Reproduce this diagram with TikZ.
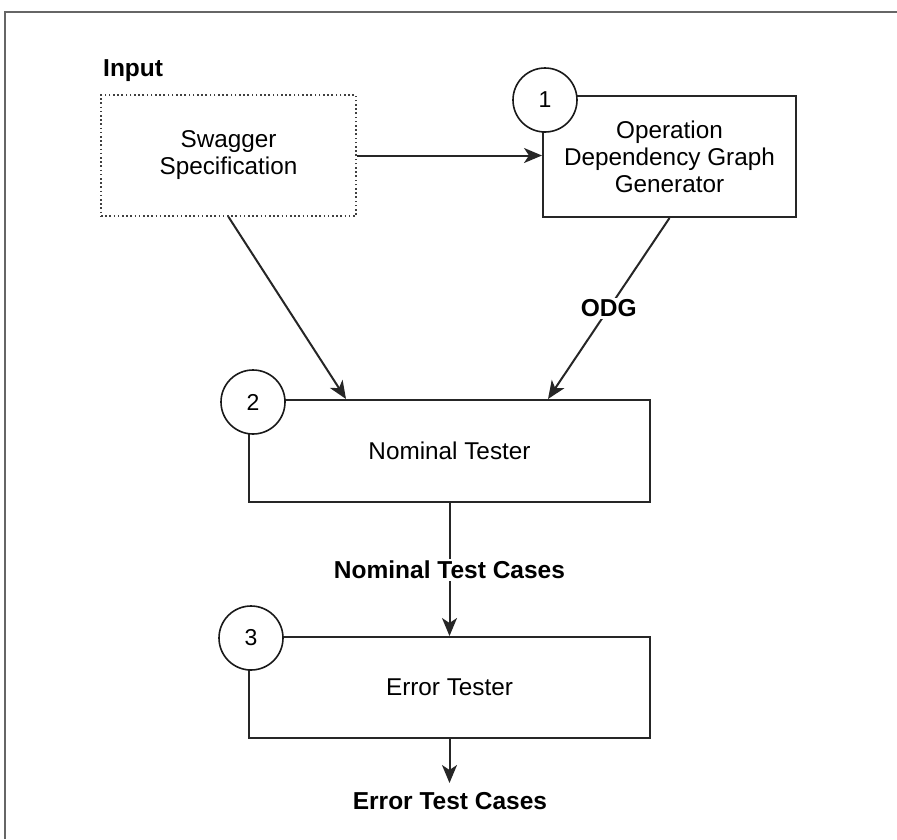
\documentclass[tikz,border=0pt]{standalone}
\usepackage{fontspec}
\setmainfont{Liberation Sans}
\usetikzlibrary{arrows.meta,positioning}
\begin{document}
\begin{tikzpicture}[x=1pt,y=-1pt,
  every node/.style={font=\fontsize{24.3}{27}\selectfont, align=center, inner sep=0pt},
  stagebox/.style={draw=black!85, line width=2pt, fill=white},
  inputbox/.style={draw=black!75, line width=1.8pt, dash pattern=on 1.6pt off 2.6pt},
  numcircle/.style={draw=black!90, line width=1.6pt, fill=white, circle, minimum size=64pt, font=\fontsize{23}{26}\selectfont},
  lbl/.style={font=\bfseries\fontsize{24.5}{27}\selectfont, fill=white, inner sep=2pt},
  conn/.style={draw=black!85, line width=2pt, -{Stealth[length=18pt,width=15pt,inset=5pt]}},
  plain/.style={draw=black!85, line width=2pt}
]
\useasboundingbox (0,0) rectangle (897,839);
\draw[black!60, line width=1.5pt] (5,839) -- (5,12) -- (897,12);

\node[anchor=west, font=\bfseries\fontsize{24.5}{27}\selectfont] (input) at (103,71) {Input};
\node[inputbox, minimum width=255pt, minimum height=121pt] (sw) at (228.5,155.5) {Swagger\\Specification};

\node[stagebox, minimum width=253pt, minimum height=121pt] (b1) at (669.5,156.5) {Operation\\Dependency Graph\\Generator};
\node[stagebox, minimum width=401pt, minimum height=102pt] (b2) at (449.5,451) {Nominal Tester};
\node[stagebox, minimum width=401pt, minimum height=101pt] (b3) at (449.5,687.5) {Error Tester};

\node[numcircle] (c1) at (545,100) {1};
\node[numcircle] (c2) at (253,402) {2};
\node[numcircle] (c3) at (251,638) {3};

\draw[conn] (sw.east) -- (sw.east -| b1.west);
\draw[conn] (sw.south) -- ([xshift=98pt]b2.north west);
\draw[conn] (b1.south) -- node[lbl, pos=0.5] (odg) {ODG} ([xshift=300pt]b2.north west);
\draw[conn] (b2.south) -- node[lbl, pos=0.5] (ntc) {Nominal Test Cases} (b3.north);
\coordinate (etcend) at (449.5,783);
\draw[conn] (b3.south) -- (etcend);
\node[font=\bfseries\fontsize{24.5}{27}\selectfont] (etc) at (450,801) {Error Test Cases};
\end{tikzpicture}
\end{document}
